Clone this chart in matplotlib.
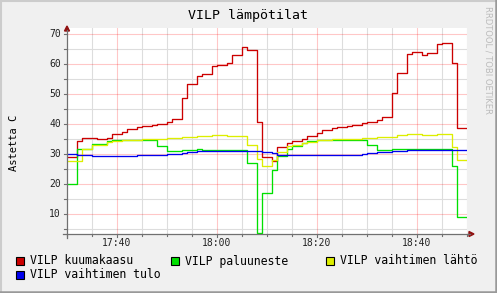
import matplotlib
matplotlib.use('Agg')
import matplotlib.pyplot as plt
from matplotlib.patches import Rectangle, Polygon
from matplotlib.lines import Line2D

W, H = 497, 293

# sample start times, minutes after 17:30 (last entry = end of data)
minutes = [0, 2, 3, 5, 6, 8, 9, 11, 12, 14, 15, 17, 18, 20, 21, 23, 24, 26, 27, 29,
           30, 32, 33, 35, 36, 38, 39, 41, 42, 44, 45, 47, 48, 50, 51, 53, 54, 56, 57, 59,
           60, 62, 63, 65, 66, 68, 69, 71, 72, 74, 75, 77, 78, 80]

kuumakaasu = [29.0, 34.3, 35.3, 35.3, 35.0, 35.4, 36.6, 37.4, 38.2, 39.0, 39.3, 39.7, 40.0,
              40.7, 41.7, 48.8, 53.4, 56.0, 56.8, 59.3, 59.7, 60.4, 62.9, 65.8, 64.6, 40.7,
              29.1, 27.8, 32.3, 33.8, 34.3, 34.9, 36.0, 37.1, 37.9, 38.6, 39.0, 39.4, 39.7,
              40.2, 40.7, 41.3, 42.3, 50.4, 57.1, 63.4, 64.0, 62.9, 63.8, 66.6, 67.1, 60.2, 38.8]

paluuneste = [20.0, 31.6, 31.6, 33.2, 33.2, 34.3, 34.8, 34.8, 34.8, 34.8, 34.8, 34.8, 32.8,
              31.1, 31.1, 31.2, 31.2, 31.5, 31.4, 31.4, 31.4, 31.4, 31.4, 31.4, 27.1, 3.5,
              16.9, 24.6, 29.4, 31.8, 32.8, 33.8, 34.2, 34.7, 34.7, 34.7, 34.7, 34.7, 34.7,
              34.7, 32.9, 31.3, 31.3, 31.5, 31.5, 31.5, 31.5, 31.5, 31.5, 31.5, 31.5, 26.0, 9.0]

vaihtimen_lahto = [27.7, 27.7, 31.6, 33.1, 33.1, 33.9, 34.3, 34.6, 34.7, 34.8, 35.0, 35.0, 35.1,
                   35.4, 35.4, 35.5, 35.8, 36.1, 36.1, 36.2, 36.2, 36.1, 36.0, 36.1, 33.1, 28.4,
                   26.1, 28.0, 30.5, 32.5, 32.9, 33.5, 33.9, 34.5, 34.8, 34.9, 35.0, 35.1, 35.1,
                   35.2, 35.4, 35.8, 35.8, 35.8, 36.2, 36.6, 36.6, 36.2, 36.2, 36.6, 36.6, 32.4, 28.1]

vaihtimen_tulo = [30.1, 29.7, 29.6, 29.4, 29.3, 29.3, 29.4, 29.4, 29.4, 29.5, 29.5, 29.6, 29.8,
                  30.0, 30.1, 30.4, 30.6, 31.0, 31.1, 31.1, 31.1, 31.1, 31.1, 31.1, 31.0, 31.0,
                  30.7, 30.2, 29.6, 29.6, 29.6, 29.6, 29.6, 29.6, 29.6, 29.6, 29.6, 29.7, 29.8,
                  30.0, 30.2, 30.5, 30.7, 31.0, 31.0, 31.2, 31.2, 31.2, 31.2, 31.2, 31.2, 31.2, 31.2]

series_names = ["VILP kuumakaasu", "VILP paluuneste", "VILP vaihtimen lähtö", "VILP vaihtimen tulo"]
series_colors = ["#CC0000", "#00E000", "#DDEE00", "#0000EE"]
series = [kuumakaasu, paluuneste, vaihtimen_lahto, vaihtimen_tulo]

x_tick_pos = [10, 30, 50, 70]
x_tick_labels = ["17:40", "18:00", "18:20", "18:40"]
y_ticks = [10, 20, 30, 40, 50, 60, 70]

MONO = "DejaVu Sans Mono"

fig = plt.figure(figsize=(W / 100, H / 100), dpi=100)
fig.patch.set_facecolor("#F0F0F0")

def fx(px):
    return px / W

def fy(py):
    return 1 - py / H

# plot area
left, right, top, bottom = 67, 467, 28, 234
ax = fig.add_axes([fx(left), fy(bottom), (right - left) / W, (bottom - top) / H])
ax.set_facecolor("white")
ymin = 3.33
ymax = ymin + (bottom - top) / 3.0
ax.set_xlim(0, 80)
ax.set_ylim(ymin, ymax)

# grid
for v in range(5, 71, 5):
    if v % 10 == 0:
        ax.axhline(v, color=(1, 0, 0, 0.22), lw=0.8, zorder=1)
    else:
        ax.axhline(v, color="#DDDDDD", lw=0.8, zorder=0.5)
for m in range(0, 81, 5):
    if m in x_tick_pos:
        ax.axvline(m, color=(1, 0, 0, 0.22), lw=0.8, zorder=1)
    elif m > 0:
        ax.axvline(m, color="#DDDDDD", lw=0.8, zorder=0.5)

for vals, col in zip(series, series_colors):
    ax.step(minutes, vals + [vals[-1]], where="post", color=col, lw=0.95, zorder=3)

for s in ax.spines.values():
    s.set_visible(False)
ax.set_xticks([])
ax.set_yticks([])

# axes lines, ticks and arrows (figure pixel coords)
axis_col = "#707070"
arrow_col = "#901010"
fig.add_artist(Line2D([fx(63), fx(470)], [fy(bottom), fy(bottom)], color=axis_col, lw=0.9))
fig.add_artist(Line2D([fx(left), fx(left)], [fy(238), fy(30)], color=axis_col, lw=0.9))
fig.add_artist(Polygon([[fx(469), fy(231.5)], [fx(469), fy(236.5)], [fx(474), fy(234)]],
                       closed=True, color=arrow_col, transform=fig.transFigure))
fig.add_artist(Polygon([[fx(64.5), fy(31)], [fx(69.5), fy(31)], [fx(67), fy(26)]],
                       closed=True, color=arrow_col, transform=fig.transFigure))
for v in range(5, 71, 5):
    py = bottom - (v - ymin) * 3.0
    fig.add_artist(Line2D([fx(64), fx(left)], [fy(py), fy(py)], color=axis_col, lw=0.8))
for m in range(0, 81, 5):
    px = left + m * 5
    ln = 3 if m in x_tick_pos else 2
    fig.add_artist(Line2D([fx(px), fx(px)], [fy(bottom), fy(bottom + ln)], color=axis_col, lw=0.8))

# tick labels
for v in y_ticks:
    py = bottom - (v - ymin) * 3.0
    fig.text(fx(61), fy(py), str(v), ha="right", va="center", fontsize=7, family=MONO, color="#222222")
for m, lab in zip(x_tick_pos, x_tick_labels):
    fig.text(fx(left + m * 5), fy(243), lab, ha="center", va="center", fontsize=7, family=MONO, color="#222222")

# title, y label, watermark
fig.text(0.5, fy(16), "VILP lämpötilat", ha="center", va="center", fontsize=9.5, family=MONO, color="black")
fig.text(fx(14), fy(143), "Astetta C", ha="center", va="center", rotation=90, fontsize=7.5, family=MONO, color="black")
fig.text(fx(488), fy(6), "RRDTOOL / TOBI OETIKER", ha="center", va="top", rotation=270,
         fontsize=6, family="DejaVu Sans", color="#BBBBBB")

# legend
legend_pos = [(16, 261), (171, 261), (326, 261), (16, 275)]
for (lx, ly), name, col in zip(legend_pos, series_names, series_colors):
    fig.add_artist(Rectangle((fx(lx), fy(ly + 4)), 8 / W, 8 / H, facecolor=col, edgecolor="black",
                             lw=0.8, transform=fig.transFigure))
    fig.text(fx(lx + 14), fy(ly), name, ha="left", va="center", fontsize=8.3, family=MONO, color="black")

# 3D frame
fig.add_artist(Line2D([0, 1], [fy(0.5), fy(0.5)], color="#CCCCCC", lw=1.5))
fig.add_artist(Line2D([fx(0.5), fx(0.5)], [0, 1], color="#CCCCCC", lw=1.5))
fig.add_artist(Line2D([0, 1], [fy(292), fy(292)], color="#999999", lw=1.8))
fig.add_artist(Line2D([fx(496), fx(496)], [0, 1], color="#999999", lw=1.8))

fig.savefig("out.png", dpi=100, facecolor=fig.get_facecolor())
